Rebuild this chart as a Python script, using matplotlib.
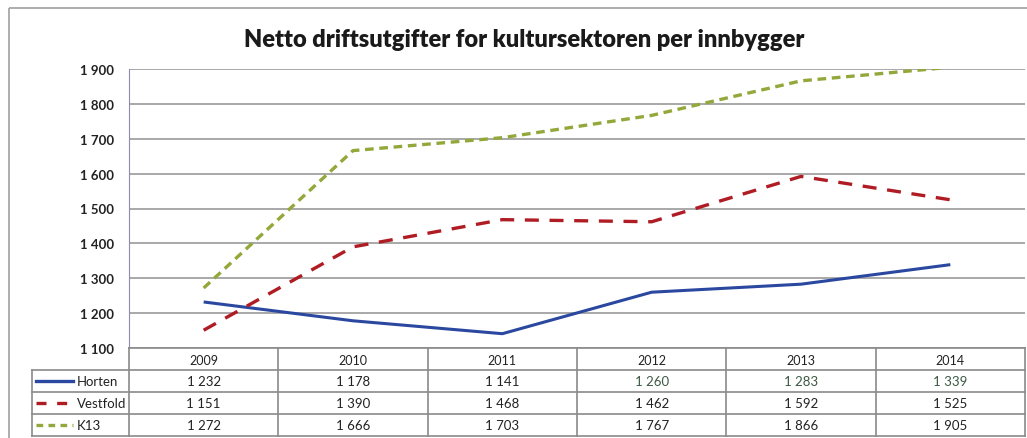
import matplotlib.pyplot as plt
from matplotlib.patches import Rectangle

years = ['2009', '2010', '2011', '2012', '2013', '2014']
horten = [1232, 1178, 1141, 1260, 1283, 1339]
vestfold = [1151, 1390, 1468, 1462, 1592, 1525]
k13 = [1272, 1666, 1703, 1767, 1866, 1905]
series_names = ['Horten', 'Vestfold', 'K13']
yticks = [1100, 1200, 1300, 1400, 1500, 1600, 1700, 1800, 1900]

W, H = 1027, 439
plt.rcParams['font.family'] = ['Lato', 'DejaVu Sans']
fig = plt.figure(figsize=(W / 100, H / 100), dpi=100)


def fmt(v):
    # Norwegian thousands separator
    return '{:,}'.format(v).replace(',', ' ')


# pixel geometry of the plot area
left, right, top, bottom = 129, 1025, 70, 349
ax = fig.add_axes([left / W, 1 - bottom / H, (right - left) / W, (bottom - top) / H])

colors = ['#2b48a0', '#b01c24', '#93a83a']
x = range(len(years))
ax.plot(x, horten, color=colors[0], lw=2.2, solid_capstyle='butt')
ax.plot(x, vestfold, color=colors[1], lw=2.4, dashes=(4.2, 3.2))
ax.plot(x, k13, color=colors[2], lw=2.4, dashes=(2.6, 1.7))

ax.set_xlim(-0.5, len(years) - 0.5)
ax.set_ylim(1100, 1900)
ax.set_yticks(yticks)
ax.set_yticklabels([fmt(v) for v in yticks], fontsize=9.5, fontweight='bold', color='#222222')
ax.set_xticks([])
ax.grid(axis='y', color='#9a9a9a', lw=1.2)
ax.tick_params(axis='y', length=0, pad=11)
for s in ['top', 'right', 'bottom']:
    ax.spines[s].set_visible(False)
ax.spines['left'].set_color('#8a8ea8')
ax.set_axisbelow(True)

# overlay in pixel coordinates for frame, title and data table
ov = fig.add_axes([0, 0, 1, 1], zorder=-1)
ov.set_xlim(0, W)
ov.set_ylim(H, 0)
ov.axis('off')
ov.add_patch(Rectangle((9, 9), W + 20, H + 20, fill=False, ec='#a0a0a0', lw=1.2))

fig.text(524 / W, 1 - 40 / H, 'Netto driftsutgifter for kultursektoren per innbygger',
         ha='center', va='center', fontsize=17, fontweight='heavy', color='#1a1a1a')

tab = fig.add_axes([0, 0, 1, 1], zorder=2)
tab.set_xlim(0, W)
tab.set_ylim(H, 0)
tab.axis('off')
tab.patch.set_alpha(0)

colw = (right - left) / len(years)
rows = [349, 371, 393, 415, 437]
lc = '#8a8a8a'
# horizontal lines
tab.plot([left, right], [rows[0], rows[0]], color=lc, lw=1.2)
for r in rows[1:]:
    tab.plot([32, right], [r, r], color=lc, lw=1.2)
# vertical lines
tab.plot([32, 32], [rows[1], rows[-1]], color=lc, lw=1.2)
for i in range(len(years) + 1):
    tab.plot([left + i * colw] * 2, [rows[0], rows[-1]], color=lc, lw=1.2)

for i, y in enumerate(years):
    tab.text(left + (i + 0.5) * colw, (rows[0] + rows[1]) / 2 + 1, y,
             ha='center', va='center', fontsize=9, color='#222222')

data = [horten, vestfold, k13]
styles = [dict(lw=2.4), dict(lw=2.4, dashes=(3.0, 3.2)), dict(lw=2.4, dashes=(2.0, 1.6))]
for j, (name, vals) in enumerate(zip(series_names, data)):
    yc = (rows[j + 1] + rows[j + 2]) / 2
    tab.plot([36, 73], [yc, yc], color=colors[j], **styles[j])
    tab.text(77, yc, name, ha='left', va='center', fontsize=9.5, color='#222222')
    for i, v in enumerate(vals):
        c = '#3c5a44' if (j == 0 and i >= 3) else '#222222'
        tab.text(left + (i + 0.5) * colw, yc, fmt(v),
                 ha='center', va='center', fontsize=9.5, color=c)

fig.savefig('out.png', dpi=100)
